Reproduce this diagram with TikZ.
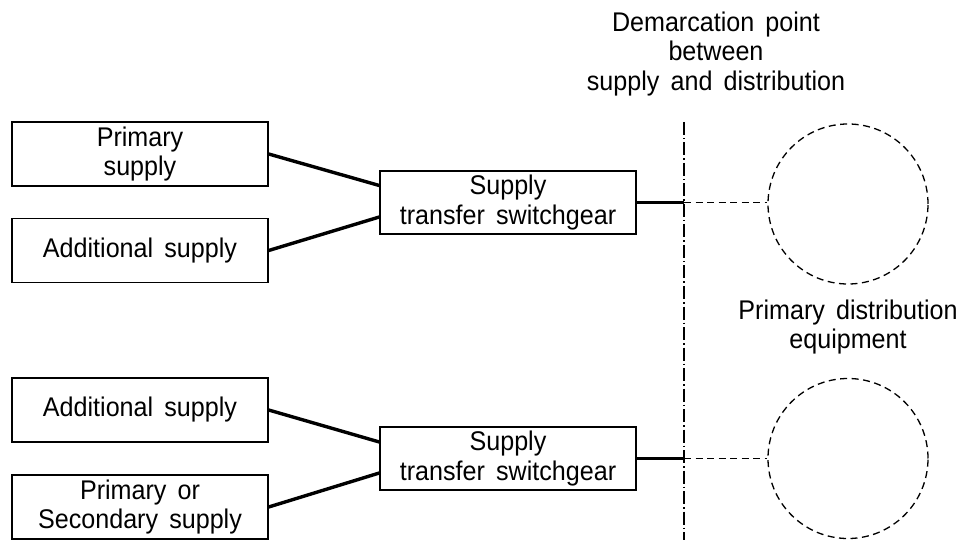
\documentclass[tikz,border=0pt]{standalone}
\usepackage{fontspec}
\setmainfont{Liberation Sans}[FakeStretch=0.93, WordSpace=1.6]
\usetikzlibrary{calc}
\begin{document}
\begin{tikzpicture}[x=1pt,y=-1pt,
  txt/.style={font=\fontsize{27}{29.5}\selectfont, align=center, inner sep=0pt},
  srcbox/.style={txt, draw, line width=1.4pt, minimum width=256pt, minimum height=64pt},
  swbox/.style={txt, draw, line width=1.4pt, minimum width=256pt, minimum height=63pt},
  equip/.style={circle, draw, line width=1.3pt, dash pattern=on 7pt off 4.5pt, minimum size=160pt, inner sep=0pt},
  feed/.style={line width=3.4pt},
  demarc/.style={line width=1.3pt, dash pattern=on 13pt off 3pt on 1.5pt off 3pt},
  link/.style={line width=1.3pt, dash pattern=on 7pt off 4.5pt}]
\useasboundingbox (0,0) rectangle (967,540);

% source boxes
\node[srcbox] (p1) at (140,154) {Primary\\supply};
\node[srcbox] (a1) at (140,250.5) {Additional supply};
\node[srcbox] (a2) at (140,410) {Additional supply};
\node[srcbox] (p2) at (140,507) {Primary or\\Secondary supply};

% switchgear
\node[swbox] (s1) at (508,202.5) {Supply\\transfer switchgear};
\node[swbox] (s2) at (508,458.5) {Supply\\transfer switchgear};

% equipment circles
\node[equip] (c1) at (848,204) {};
\node[equip] (c2) at (848,458.5) {};

% labels
\node[txt] (dlab) at (716,54) {Demarcation point\\between\\supply and distribution};
\node[txt] (elab) at (848,327) {Primary distribution\\equipment};

% demarcation line
\coordinate (dtop) at (684,122);
\coordinate (dbot) at (684,540);
\draw[demarc] (dtop) -- (dbot);
\coordinate (j1) at (s1.east -| dtop);
\coordinate (j2) at (s2.east -| dtop);

% connectors
\draw[feed] (p1.east) -- ($(s1.west)+(0,-17)$);
\draw[feed] (a1.east) -- ($(s1.west)+(0,14.5)$);
\draw[feed] (a2.east) -- ($(s2.west)+(0,-16.5)$);
\draw[feed] (p2.east) -- ($(s2.west)+(0,14.5)$);
\draw[feed] (s1.east) -- (j1);
\draw[feed] (s2.east) -- (j2);
\draw[link] (j1) -- (j1 -| c1.west);
\draw[link] (j2) -- (j2 -| c2.west);
\end{tikzpicture}
\end{document}
